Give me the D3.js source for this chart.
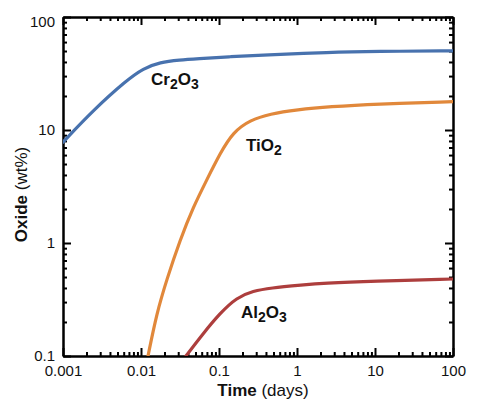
<!DOCTYPE html>
<meta charset="utf-8">
<script src="https://d3js.org/d3.v7.min.js"></script>
<style>
body { margin: 0; background: #fff; }
svg text { font-family: "Liberation Sans", Arial, sans-serif; fill: #111; }
.axis path, .axis line { stroke: #000; stroke-width: 2px; }
.axis text { font-size: 15px; }
.curve { fill: none; stroke-width: 3.2px; stroke-linecap: round; }
.lab { font-size: 17px; font-weight: bold; }
</style>
<body>
<script>

// values (time in days, oxide in wt%)
var cr2o3Days = [0.001, 0.00245, 0.0066, 0.0107, 0.0175, 0.0316, 0.052, 0.14, 0.37, 2.65, 10, 100];
var cr2o3Wt   = [7.8, 15, 27.7, 35, 39.8, 41.6, 42.6, 44.6, 46.1, 48.8, 49.6, 50.2];

var tio2Days = [0.0123, 0.0159, 0.0213, 0.0316, 0.0469, 0.0695, 0.103, 0.152, 0.249, 0.45, 1, 2.65, 10, 100];
var tio2Wt   = [0.1, 0.239, 0.471, 1.06, 2.09, 3.6, 6.2, 9.6, 12.2, 13.9, 15.1, 16.1, 17.0, 17.8];

var al2o3Days = [0.0377, 0.063, 0.103, 0.169, 0.275, 0.451, 1.19, 2.15, 9.4, 100];
var al2o3Wt   = [0.1, 0.159, 0.239, 0.33, 0.376, 0.4, 0.425, 0.44, 0.46, 0.48];

var xTickLabels = ["0.001", "0.01", "0.1", "1", "10", "100"];
var yTickLabels = ["0.1", "1", "10", "100"];

var margin = {top: 17, right: 26, bottom: 44, left: 63};
var width = 479 - margin.left - margin.right,
    height = 400 - margin.top - margin.bottom;

var svg = d3.select("body").append("svg")
    .attr("width", 479)
    .attr("height", 400)
    .append("g")
    .attr("transform", "translate(" + margin.left + "," + margin.top + ")");

var xScale = d3.scaleLog().domain([0.001, 100]).range([0, width]);
var yScale = d3.scaleLog().domain([0.1, 100]).range([height, 0]);

var xMajor = xTickLabels.map(Number);
var yMajor = yTickLabels.map(Number);
function minors(majors) {
    var out = [];
    majors.slice(0, -1).forEach(function(m) {
        for (var k = 2; k <= 9; k++) out.push(m * k);
    });
    return out;
}
var xMinor = minors(xMajor);
var yMinor = minors(yMajor);

// minor ticks, all four sides
svg.append("g").attr("class", "axis")
    .attr("transform", "translate(0," + height + ")")
    .call(d3.axisBottom(xScale).tickValues(xMinor).tickSizeInner(-4).tickSizeOuter(0).tickFormat(""));
svg.append("g").attr("class", "axis")
    .call(d3.axisTop(xScale).tickValues(xMinor).tickSizeInner(-4).tickSizeOuter(0).tickFormat(""));
svg.append("g").attr("class", "axis")
    .call(d3.axisLeft(yScale).tickValues(yMinor).tickSizeInner(-4).tickSizeOuter(0).tickFormat(""));
svg.append("g").attr("class", "axis")
    .attr("transform", "translate(" + width + ",0)")
    .call(d3.axisRight(yScale).tickValues(yMinor).tickSizeInner(-4).tickSizeOuter(0).tickFormat(""));

// major ticks + labels
svg.append("g").attr("class", "axis")
    .attr("transform", "translate(0," + height + ")")
    .call(d3.axisBottom(xScale).tickValues(xMajor).tickSizeInner(-8).tickSizeOuter(0).tickPadding(9)
        .tickFormat(function(d, i) { return xTickLabels[i]; }));
svg.append("g").attr("class", "axis")
    .call(d3.axisTop(xScale).tickValues(xMajor).tickSizeInner(-8).tickSizeOuter(0).tickFormat(""));
var yAxisGroup = svg.append("g").attr("class", "axis")
    .call(d3.axisLeft(yScale).tickValues(yMajor).tickSizeInner(-8).tickSizeOuter(0).tickPadding(8)
        .tickFormat(function(d, i) { return yTickLabels[i]; }));
svg.append("g").attr("class", "axis")
    .attr("transform", "translate(" + width + ",0)")
    .call(d3.axisRight(yScale).tickValues(yMajor).tickSizeInner(-8).tickSizeOuter(0).tickFormat(""));

// top label sits a bit lower in the original
yAxisGroup.selectAll("text").filter(function(d) { return d == 100; }).attr("dy", "0.6em");

// curves
var series = [
    {days: cr2o3Days, wt: cr2o3Wt, color: "#4872ae"},
    {days: tio2Days, wt: tio2Wt, color: "#e1883b"},
    {days: al2o3Days, wt: al2o3Wt, color: "#ad3e3d"}
];

var line = d3.line()
    .x(function(d) { return xScale(d[0]); })
    .y(function(d) { return yScale(d[1]); })
    .curve(d3.curveBasis);

svg.append("clipPath").attr("id", "plotClip")
    .append("rect").attr("width", width).attr("height", height);

svg.selectAll(".curve")
    .data(series)
    .enter()
    .append("path")
    .attr("class", "curve")
    .attr("clip-path", "url(#plotClip)")
    .style("stroke", function(d) { return d.color; })
    .attr("d", function(d) { return line(d.days.map(function(t, i) { return [t, d.wt[i]]; })); });

// series labels with subscripts
function formulaLabel(x, y, parts) {
    var t = svg.append("text").attr("class", "lab").attr("x", x).attr("y", y);
    var shift = 0;
    parts.forEach(function(p) {
        var sub = /^[0-9]$/.test(p);
        var target = sub ? 4 : 0;
        t.append("tspan")
            .attr("dy", target - shift)
            .style("font-size", sub ? "14px" : null)
            .text(p);
        shift = target;
    });
}
formulaLabel(88, 68, ["Cr", "2", "O", "3"]);
formulaLabel(183, 134, ["Ti", "O", "2"]);
formulaLabel(178, 301, ["Al", "2", "O", "3"]);

// axis titles
var xTitle = svg.append("text")
    .attr("x", 200)
    .attr("y", height + 40)
    .attr("text-anchor", "middle")
    .style("font-size", "17px");
xTitle.append("tspan").style("font-weight", "bold").text("Time");
xTitle.append("tspan").text(" (days)");

var yTitle = svg.append("text")
    .attr("transform", "translate(-36," + (height / 2 + 8) + ") rotate(-90)")
    .attr("text-anchor", "middle")
    .style("font-size", "17px");
yTitle.append("tspan").style("font-weight", "bold").text("Oxide");
yTitle.append("tspan").text(" (wt%)");

</script>
</body>
